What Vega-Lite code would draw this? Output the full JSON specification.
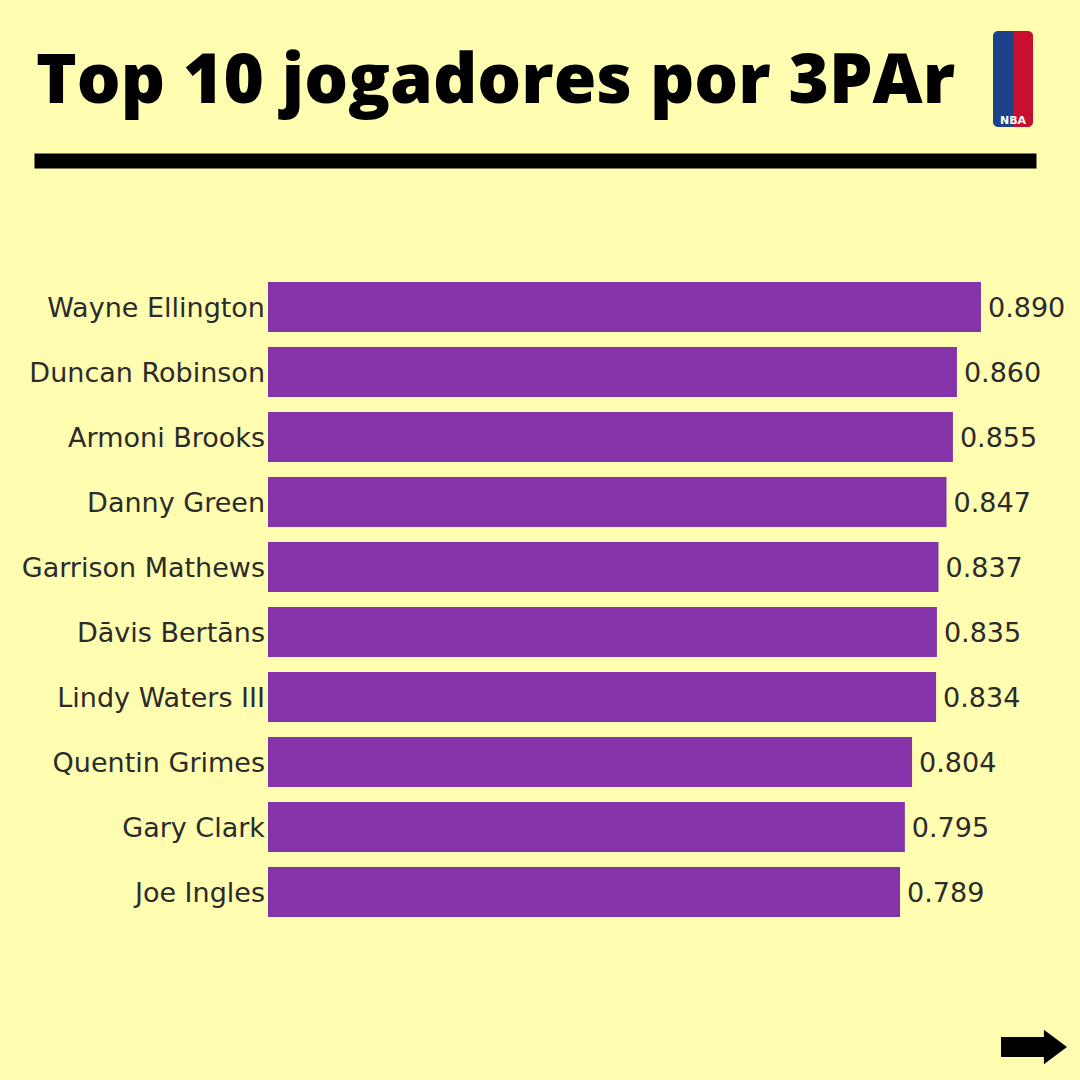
{
  "$schema": "https://vega.github.io/schema/vega-lite/v6.json",
  "width": 1002,
  "height": 650,
  "autosize": {"type": "none"},
  "padding": {"left": 34, "top": 274.5, "right": 44, "bottom": 155.5},
  "background": "#FFFDAF",
  "config": {"view": {"stroke": null}},
  "title": {
    "text": "Top 10 jogadores por 3PAr",
    "anchor": "start",
    "frame": "group",
    "font": "Open Sans",
    "fontSize": 69,
    "fontWeight": 800,
    "color": "#000000",
    "baseline": "alphabetic",
    "offset": 40,
    "dy": 181,
    "dx": 2
  },
  "data": {
    "values": [
      {"jogador": "Wayne Ellington", "3PAr": 0.890},
      {"jogador": "Duncan Robinson", "3PAr": 0.860},
      {"jogador": "Armoni Brooks", "3PAr": 0.855},
      {"jogador": "Danny Green", "3PAr": 0.847},
      {"jogador": "Garrison Mathews", "3PAr": 0.837},
      {"jogador": "Dāvis Bertāns", "3PAr": 0.835},
      {"jogador": "Lindy Waters III", "3PAr": 0.834},
      {"jogador": "Quentin Grimes", "3PAr": 0.804},
      {"jogador": "Gary Clark", "3PAr": 0.795},
      {"jogador": "Joe Ingles", "3PAr": 0.789}
    ]
  },
  "encoding": {
    "y": {
      "field": "jogador",
      "type": "nominal",
      "sort": null,
      "scale": {"paddingInner": 0.2308, "paddingOuter": 0.1154},
      "axis": null
    }
  },
  "layer": [
    {
      "mark": {"type": "bar", "color": "#8533A8"},
      "encoding": {
        "x": {
          "field": "3PAr",
          "type": "quantitative",
          "scale": {"domain": [-0.2921, 0.9587], "nice": false, "zero": false},
          "axis": {
            "orient": "top",
            "title": null,
            "labels": false,
            "ticks": false,
            "grid": false,
            "domain": true,
            "domainColor": "#000000",
            "domainWidth": 15,
            "offset": 114
          }
        }
      }
    },
    {
      "mark": {"type": "text", "align": "right", "baseline": "middle", "dx": -3, "dy": 2, "font": "DejaVu Sans", "fontSize": 27, "color": "#2B2B2B"},
      "encoding": {
        "x": {"datum": 0, "type": "quantitative"},
        "text": {"field": "jogador", "type": "nominal"}
      }
    },
    {
      "mark": {"type": "text", "align": "left", "baseline": "middle", "dx": 7, "dy": 2, "font": "DejaVu Sans", "fontSize": 27, "color": "#2B2B2B"},
      "encoding": {
        "x": {"field": "3PAr", "type": "quantitative"},
        "text": {"field": "3PAr", "type": "quantitative", "format": ".3f"}
      }
    },
    {
      "data": {"values": [{"parte": "esquerda"}]},
      "mark": {"type": "rect", "color": "#1D428A", "cornerRadiusTopLeft": 5, "cornerRadiusBottomLeft": 5},
      "encoding": {
        "x": {"value": 959}, "x2": {"value": 980},
        "y": {"value": -243.5}, "y2": {"value": -147.5}
      }
    },
    {
      "data": {"values": [{"parte": "direita"}]},
      "mark": {"type": "rect", "color": "#C8102E", "cornerRadiusTopRight": 5, "cornerRadiusBottomRight": 5},
      "encoding": {
        "x": {"value": 979}, "x2": {"value": 999},
        "y": {"value": -243.5}, "y2": {"value": -147.5}
      }
    },
    {
      "data": {"values": [{"logo": "NBA"}]},
      "mark": {"type": "text", "font": "DejaVu Sans", "fontWeight": "bold", "fontSize": 11, "color": "#FFFFFF", "align": "center", "baseline": "alphabetic"},
      "encoding": {
        "x": {"value": 979}, "y": {"value": -151},
        "text": {"field": "logo", "type": "nominal"}
      }
    },
    {
      "data": {"values": [{"seta": "próximo"}]},
      "mark": {"type": "point", "filled": true, "color": "#000000", "opacity": 1, "size": 4356,
        "shape": "M -1 -0.3 L 0.3 -0.3 L 0.3 -0.52 L 1 0 L 0.3 0.52 L 0.3 0.3 L -1 0.3 Z"},
      "encoding": {
        "x": {"value": 1000}, "y": {"value": 772.5}
      }
    }
  ]
}
